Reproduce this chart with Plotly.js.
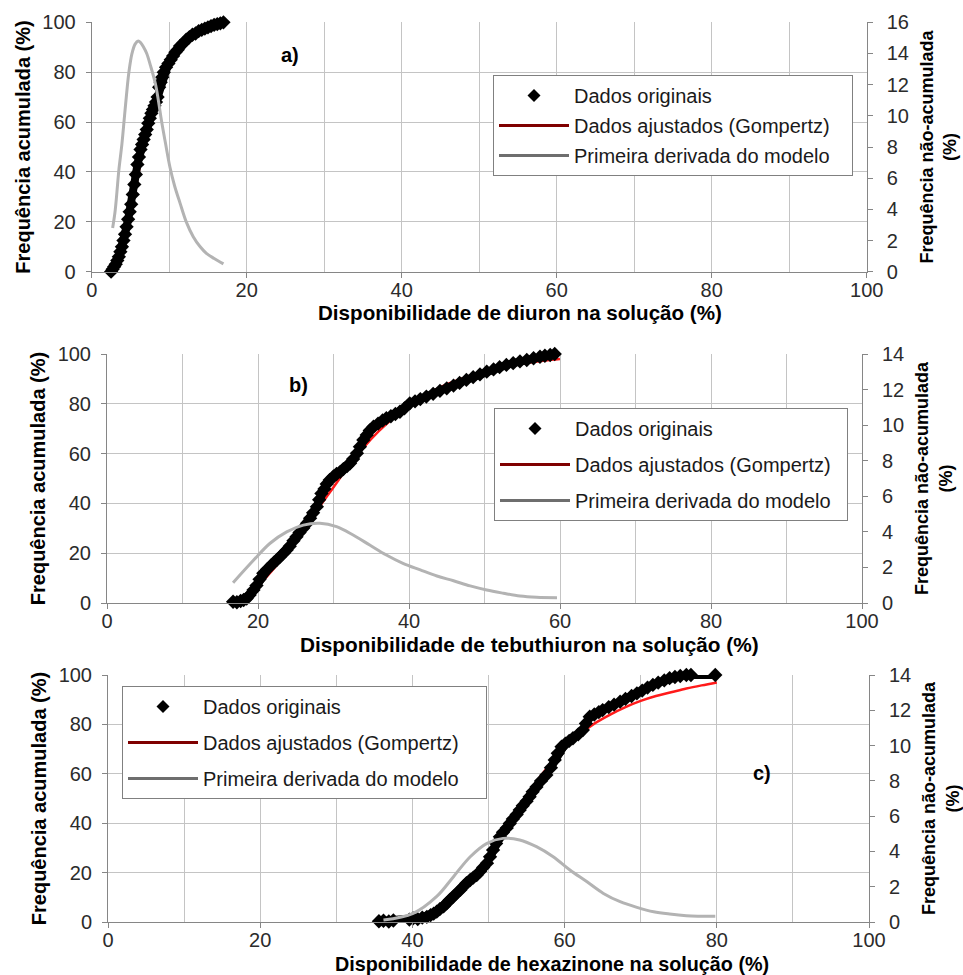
<!DOCTYPE html>
<html>
<head>
<meta charset="utf-8">
<script src="https://cdn.plot.ly/plotly-3.0.1.min.js"></script>
<style>html,body{margin:0;padding:0;background:#fff;}#chart{width:963px;height:975px;}</style>
</head>
<body>
<div id="chart"></div>
<script>
// ---------- Panel a) diuron ----------
const aDataX = [2.5,2.7,2.9,3.1,3.3,3.5,3.7,3.9,4.1,4.3,4.5,4.7,4.9,5.1,5.3,5.5,5.7,5.9,6.1,6.3,6.5,6.7,6.9,7.1,7.3,7.5,7.7,7.9,8.1,8.3,8.5,8.7,8.9,9.1,9.3,9.6,9.9,10.2,10.5,10.8,11.1,11.4,11.8,12.2,12.6,13.0,13.4,13.8,14.2,14.6,15.0,15.4,15.8,16.2,16.6,17.0];
const aDataY = [0,1,2,3,4.5,6,8,10,12.5,15,18,21,24,27,31,35,39,43,46,49,51,53,55,57,59.5,61.5,63.5,65,66.5,68,70,74,76,78,80,82,83.5,85,86.5,88,89,90.5,91.5,93,94,95,95.5,96.5,97,97.5,98,98.5,99,99.3,99.6,100];
const aFitX = [2.5,3,3.5,4,4.5,5,5.5,6,6.5,7,7.5,8,8.5,9,9.5,10,11,12,13,14,15,16,17];
const aFitY = [0.5,2.5,5.5,10,16,23,31,39,47,54,60,66,71,75,79,82,87,91,94,96,97.5,98.5,99];
const aDerX = [2.7,3.0,3.2,3.5,3.9,4.2,4.5,4.8,5.2,5.6,6.0,6.3,6.7,7.1,7.6,8.2,8.6,9.0,9.5,10.1,10.7,11.4,12.2,13.1,14.0,14.8,15.8,17.0];
const aDerY = [2.8,3.8,4.8,6.5,8.2,9.8,11.4,12.8,14.0,14.6,14.8,14.7,14.4,14.0,13.2,12.1,11.0,9.7,8.3,6.7,5.5,4.4,3.2,2.25,1.6,1.18,0.85,0.5];

// ---------- Panel b) tebuthiuron ----------
const bDataX = [16.7,17.2,17.7,18.1,18.5,18.9,19.4,19.8,20.2,20.7,21.2,21.7,22.1,22.5,22.9,23.4,23.8,24.2,24.7,25.1,25.5,26.0,26.5,26.9,27.3,27.8,28.1,28.4,28.8,29.1,29.5,30.0,30.4,30.9,31.3,31.8,32.2,32.6,33.1,33.5,33.95,34.4,34.8,35.3,35.9,36.5,37.0,37.6,38.2,38.8,39.4,40.1,40.8,41.5,42.3,43.2,44.1,45.0,45.9,46.7,47.6,48.5,49.4,50.3,51.2,52.0,52.9,53.8,54.7,55.6,56.5,57.35,58.0,58.7,59.3];
const bDataY = [0.5,0.3,0.8,1.2,1.8,3.2,5.2,7,9.5,11.9,13.5,15,16.2,17.3,18.5,20,21.3,22.8,25,26.6,28.3,30.1,32,34,36.2,38.7,41.5,44,45.8,47.8,49.4,50.8,51.8,52.7,53.8,55,56.1,57.8,60.1,62.8,65.5,67.5,69.3,70.8,72,73.3,74.2,75,75.9,76.8,78.2,80.2,81,81.9,82.9,84,85.2,86.2,87.3,88.4,89.6,90.7,91.8,92.9,93.8,94.7,95.6,96.3,97,97.6,98.3,98.9,99.3,99.6,100];
const bFitX = [17,18,20,22,24,26,28,30,32,34,36,38,40,42,44,46,48,50,52,54,56,58,60];
const bFitY = [1,2.5,7,13.5,21,29,38,46.5,55,62.5,69,74.5,79,83,86.5,89,91.2,93,94.4,95.6,96.6,97.4,98];
const bDerX = [16.7,19.4,21.6,23.8,26.0,28.2,30.4,32.6,34.8,37.0,39.2,41.5,43.7,45.9,48.1,50.3,52.5,54.7,56.9,59.6];
const bDerY = [1.14,2.4,3.36,4.0,4.38,4.48,4.29,3.82,3.26,2.7,2.23,1.86,1.52,1.25,0.96,0.73,0.55,0.39,0.32,0.3];

// ---------- Panel c) hexazinone ----------
const cDataX = [35.6,36.2,36.9,37.5,39.6,40.1,40.7,41.3,41.9,42.4,42.8,43.2,43.6,44.1,44.5,44.9,45.4,45.8,46.3,46.7,47.1,47.6,48.0,48.45,48.9,49.3,49.8,50.2,50.6,51.0,51.5,51.9,52.4,52.8,53.2,53.7,54.1,54.5,55.0,55.4,55.8,56.3,56.9,57.6,58.2,58.7,59.1,59.6,60.1,60.6,61.1,61.8,62.4,62.8,63.3,63.9,64.5,65.0,65.8,66.5,67.3,68.0,68.8,69.5,70.2,70.9,71.6,72.3,73.1,73.8,74.5,75.2,76.0,76.6,79.8];
const cDataY = [0.3,0.5,0.2,0.6,1,1.5,1.2,1.8,2.1,2.8,3.4,4.2,5.2,6.3,7.6,8.9,10.3,11.6,13,14.4,15.7,17,18,19,20.5,22.1,23.8,26.4,29.1,31.8,34.5,36.3,38.1,39.9,41.7,43.5,45.3,47.1,48.9,50.7,52.7,54.7,57.1,59.5,62.5,65.6,68.3,71,72.2,73.3,74.4,76,77.7,80.4,83.1,84,85,85.8,87,88,89.2,90.3,91.5,92.6,93.7,94.9,96,96.9,97.8,98.7,99.2,99.6,100,100,100];
const cFitX = [36,38,40,42,44,46,48,50,52,54,56,58,60,62,64,66,68,70,72,74,76,78,80];
const cFitY = [0.1,0.4,1.2,3,6.5,11.5,18,27,37,46.5,55.5,63.5,70.5,76,80.5,84,87,89.5,91.5,93,94.5,95.8,97];
const cDerX = [36.2,40.1,43.2,45.4,47.6,49.8,51.9,54.1,56.3,58.5,60.7,62.9,65.1,67.3,69.5,71.7,73.8,76.0,79.8];
const cDerY = [0.11,0.49,1.45,2.57,3.7,4.46,4.74,4.65,4.27,3.7,2.95,2.29,1.62,1.15,0.83,0.58,0.45,0.36,0.32];

const legendNames = ['Dados originais', 'Dados ajustados (Gompertz)', 'Primeira derivada do modelo'];
const xTitles = ['Disponibilidade de diuron na solução (%)', 'Disponibilidade de tebuthiuron na solução (%)', 'Disponibilidade de hexazinone na solução (%)'];
const yTitle = 'Frequência acumulada (%)';
const y2Title = 'Frequência não-acumulada<br>(%)';
const panelLabels = ['a)', 'b)', 'c)'];
const rightMax = [16, 14, 14];

const FONT = '"Liberation Sans", Arial, sans-serif';
const panels = [
  {dx: aDataX, dy: aDataY, fx: aFitX, fy: aFitY, gx: aDerX, gy: aDerY},
  {dx: bDataX, dy: bDataY, fx: bFitX, fy: bFitY, gx: bDerX, gy: bDerY},
  {dx: cDataX, dy: cDataY, fx: cFitX, fy: cFitY, gx: cDerX, gy: cDerY}
];
const padCount = [3, 2, 4];

const traces = [];
panels.forEach((p, i) => {
  const xa = i === 0 ? 'x' : 'x' + (i + 1);
  const yl = i === 0 ? 'y' : 'y' + (2 * i + 1);
  const yr = 'y' + (2 * i + 2);
  const lg = i === 0 ? 'legend' : 'legend' + (i + 1);
  traces.push({x: p.gx, y: p.gy, xaxis: xa, yaxis: yr, type: 'scatter', mode: 'lines',
    line: {color: '#b3b3b3', width: 3, shape: 'spline'}, showlegend: false, hoverinfo: 'skip', cliponaxis: false});
  traces.push({x: p.fx, y: p.fy, xaxis: xa, yaxis: yl, type: 'scatter', mode: 'lines',
    line: {color: '#ff1a1a', width: 2.5, shape: 'spline'}, showlegend: false, hoverinfo: 'skip', cliponaxis: false});
  traces.push({x: p.dx, y: p.dy, xaxis: xa, yaxis: yl, type: 'scatter', mode: 'lines+markers',
    line: {color: '#000000', width: 8},
    marker: {symbol: 'diamond', size: 11, color: '#000000'}, showlegend: false, hoverinfo: 'skip', cliponaxis: false});
  traces.push({x: [null], y: [null], xaxis: xa, yaxis: yl, type: 'scatter', mode: 'markers', name: legendNames[0],
    marker: {symbol: 'diamond', size: 10, color: '#000000'}, legend: lg, legendgroup: 'g1' + i});
  traces.push({x: [null], y: [null], xaxis: xa, yaxis: yl, type: 'scatter', mode: 'lines',
    name: legendNames[1] + '\u00a0'.repeat(padCount[i]),
    line: {color: '#7f0000', width: 3}, legend: lg, legendgroup: 'g2' + i});
  traces.push({x: [null], y: [null], xaxis: xa, yaxis: yl, type: 'scatter', mode: 'lines', name: legendNames[2],
    line: {color: '#6e6e6e', width: 3}, legend: lg, legendgroup: 'g3' + i});
});

const W = 963, H = 975;
// pixel boxes of each plot area: [left, right, top, bottom]
const boxes = [[91.7, 866.7, 22.3, 271.7], [107, 862, 354, 603], [108, 869, 675, 922]];
const legendPos = [[493, 75, 1], [494, 408, 7], [122, 686, 7]];
const labelPos = [[290, 55], [298, 385], [762, 773]];
const xTitlePos = [[520, 312, 20.6], [529, 644, 20.8], [552, 964, 19.8]];

const axisCommon = {
  showline: true, linecolor: '#868686', linewidth: 1,
  ticks: 'outside', ticklen: 5, tickcolor: '#868686',
  tickfont: {family: FONT, size: 20, color: '#2b2b2b'},
  zeroline: false, fixedrange: true
};

const layout = {
  width: W, height: H, autosize: false,
  margin: {l: 0, r: 0, t: 0, b: 0},
  paper_bgcolor: '#ffffff', plot_bgcolor: 'rgba(0,0,0,0)',
  font: {family: FONT, color: '#000'},
  annotations: [],
  showlegend: true
};

boxes.forEach((b, i) => {
  const xk = i === 0 ? 'xaxis' : 'xaxis' + (i + 1);
  const ylk = i === 0 ? 'yaxis' : 'yaxis' + (2 * i + 1);
  const yrk = 'yaxis' + (2 * i + 2);
  const yl = i === 0 ? 'y' : 'y' + (2 * i + 1);
  const xa = i === 0 ? 'x' : 'x' + (i + 1);
  const ydom = [1 - b[3] / H, 1 - b[2] / H];
  layout[xk] = Object.assign({}, axisCommon, {
    domain: [b[0] / W, b[1] / W], anchor: yl, range: [0, 100], dtick: 20, tick0: 0,
    showgrid: true, gridcolor: '#c4c4c4', gridwidth: 1,
    minor: {dtick: 10, showgrid: true, gridcolor: '#c4c4c4', gridwidth: 1, ticks: ''},
    ticklabelstandoff: -5
  });
  layout[ylk] = Object.assign({}, axisCommon, {
    domain: ydom, anchor: xa, range: [0, 100], dtick: 20, tick0: 0,
    showgrid: true, gridcolor: '#c4c4c4', gridwidth: 1, ticklabelstandoff: 6,
    title: {text: '<b>' + yTitle + '</b>', font: {family: FONT, size: 20, color: '#000'}, standoff: 6}
  });
  layout[yrk] = Object.assign({}, axisCommon, {
    overlaying: yl, side: 'right', anchor: xa, range: [0, rightMax[i]], dtick: 2, tick0: 0,
    showgrid: false, ticklabelstandoff: 10,
    title: {text: '<b>' + y2Title + '</b>', font: {family: FONT, size: 18, color: '#000'}, standoff: 12}
  });
  const lk = i === 0 ? 'legend' : 'legend' + (i + 1);
  const lp = legendPos[i];
  layout[lk] = {
    x: lp[0] / W, y: 1 - lp[1] / H, xanchor: 'left', yanchor: 'top', xref: 'paper', yref: 'paper',
    bgcolor: '#ffffff', bordercolor: '#808080', borderwidth: 1,
    font: {family: FONT, size: 20, color: '#1a1a1a'},
    traceorder: 'grouped', tracegroupgap: lp[2], itemwidth: 70
  };
  layout.annotations.push({
    xref: 'paper', yref: 'paper', x: labelPos[i][0] / W, y: 1 - labelPos[i][1] / H,
    text: '<b>' + panelLabels[i] + '</b>', showarrow: false, xanchor: 'center', yanchor: 'middle',
    font: {family: FONT, size: 20, color: '#000'}
  });
  const tp = xTitlePos[i];
  layout.annotations.push({
    xref: 'paper', yref: 'paper', x: tp[0] / W, y: 1 - tp[1] / H,
    text: '<b>' + xTitles[i] + '</b>', showarrow: false, xanchor: 'center', yanchor: 'middle',
    font: {family: FONT, size: tp[2], color: '#000'}
  });
});

Plotly.newPlot('chart', traces, layout, {staticPlot: true, displayModeBar: false});
</script>
</body>
</html>
